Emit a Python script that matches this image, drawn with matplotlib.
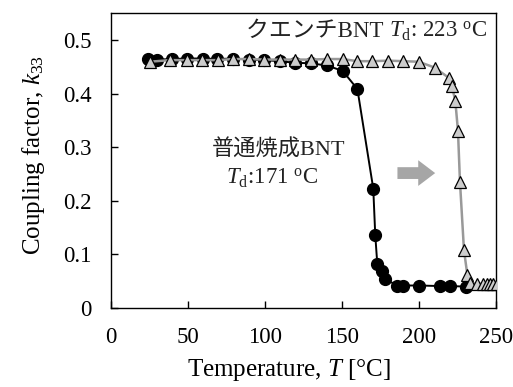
import matplotlib
matplotlib.use("Agg")
import matplotlib.pyplot as plt
from matplotlib.patches import FancyArrow

plt.rcParams['font.family'] = ['Liberation Serif', 'Noto Sans CJK JP']
plt.rcParams['mathtext.fontset'] = 'custom'
plt.rcParams['mathtext.rm'] = 'Liberation Serif'
plt.rcParams['mathtext.it'] = 'Liberation Serif:italic'

# Conventional sintered BNT (black circles)
t_normal = [24.2, 30.1, 39.4, 49.5, 59.5, 69.0, 79.4, 89.8, 99.4, 109.7, 119.7, 129.7,
            140.0, 150.4, 160.0, 170.3, 171.6, 172.9, 176.0, 178.0, 186.0, 189.8,
            200.2, 213.6, 220.0, 230.5]
k_normal = [0.465, 0.464, 0.465, 0.466, 0.466, 0.465, 0.466, 0.464, 0.463, 0.461, 0.458,
            0.457, 0.453, 0.443, 0.409, 0.223, 0.136, 0.083, 0.069, 0.054, 0.042, 0.042,
            0.042, 0.041, 0.041, 0.040]

# Quenched BNT (gray triangles)
t_quench = [25.3, 38.3, 49.1, 59.0, 69.5, 79.4, 89.8, 99.4, 109.7, 119.7, 129.7, 140.0,
            150.4, 160.0, 169.5, 179.9, 189.8, 199.8, 210.2, 219.3, 221.4, 223.6, 225.3,
            226.6, 229.2, 231.4, 233.1, 237.5, 241.8, 244.0, 246.1, 248.3, 250.4]
k_quench = [0.460, 0.463, 0.463, 0.463, 0.463, 0.465, 0.465, 0.464, 0.464, 0.464, 0.464,
            0.465, 0.465, 0.461, 0.461, 0.462, 0.461, 0.460, 0.449, 0.430, 0.415, 0.386,
            0.331, 0.236, 0.108, 0.062, 0.047, 0.045, 0.045, 0.045, 0.045, 0.045, 0.045]

xticks = [0, 50, 100, 150, 200, 250]
yticks = [0, 0.1, 0.2, 0.3, 0.4, 0.5]
ytick_labels = ['0', '0.1', '0.2', '0.3', '0.4', '0.5']

fig = plt.figure(figsize=(5.13, 3.87), dpi=100)
ax = fig.add_axes([111/513, 1 - 308/387, (496-111)/513, (308-13)/387])

ax.plot(t_normal, k_normal, color='black', lw=1.4, marker='o', ms=8.5,
        mfc='black', mec='black', zorder=2)
ax.plot(t_quench, k_quench, color='#999999', lw=1.8, marker='^', ms=9,
        mfc='#cccccc', mec='black', mew=0.9, zorder=3)

ax.set_xlim(0, 250)
ax.set_ylim(0, 0.551)
ax.set_xticks(xticks)
ax.set_yticks(yticks)
ax.set_yticklabels(ytick_labels)
ax.tick_params(direction='in', length=5, width=1, labelsize=16.5, pad=14)
for s in ax.spines.values():
    s.set_linewidth(1.0)

ax.set_xlabel(r'Temperature, $T$ [°C]', fontsize=18, va='baseline')
ax.set_ylabel(r'Coupling factor, $k_{33}$', fontsize=18, va='baseline')
ax.xaxis.set_label_coords(0.461, -0.232)
ax.yaxis.set_label_coords(-0.184, 0.52)

txtc = '#222222'
t2 = ax.text(244, 0.516, r'$T_{\mathrm{d}}$: 223 $^{\mathrm{o}}$C', fontsize=16.5,
             color=txtc, ha='right', va='center')
fig.canvas.draw()
bb = t2.get_window_extent(fig.canvas.get_renderer())
inv = ax.transData.inverted()
x_left = inv.transform((bb.x0, bb.y0))[0]
ax.text(x_left, 0.516, 'クエンチBNT ', fontsize=16.5, color=txtc,
        ha='right', va='center')

ax.text(109, 0.295, '普通焼成BNT', fontsize=16, color=txtc, ha='center', va='center')
ax.text(104.5, 0.243, r'$T_{\mathrm{d}}$:171 $^{\mathrm{o}}$C', fontsize=16.5,
        color=txtc, ha='center', va='center')

arrow = FancyArrow(186, 0.252, 24.5, 0, width=0.022, head_width=0.048,
                   head_length=11, length_includes_head=True,
                   color='#a6a6a6', lw=0, zorder=1)
ax.add_patch(arrow)

fig.savefig('out.png', dpi=100)
